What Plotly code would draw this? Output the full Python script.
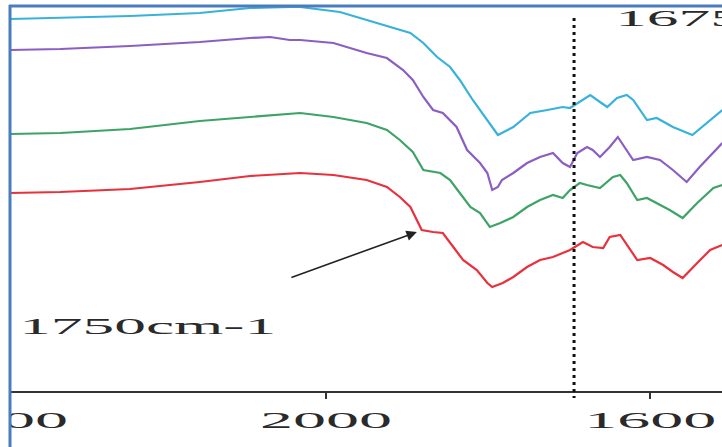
import plotly.graph_objects as go

# ---------------- data (wavenumber in cm-1, signal in arbitrary units) ----------------
cyan_wn = [2390, 2328, 2242, 2156, 2094, 2045, 2032, 1983, 1930, 1896, 1880, 1863, 1847, 1835,
           1819, 1801, 1788, 1769, 1748, 1727, 1708, 1699, 1690, 1674, 1662, 1653, 1641, 1629,
           1621, 1604, 1592, 1572, 1548, 1530, 1511]
cyan_val = [373, 374, 376, 379, 384, 385, 385, 380, 367, 359, 349, 335, 325, 312,
            292, 272, 257, 265, 279, 282, 285, 284, 289, 297, 290, 285, 294, 297,
            292, 272, 274, 265, 257, 269, 282]

purple_wn = [2390, 2328, 2242, 2156, 2094, 2069, 2045, 2032, 1991, 1950, 1925, 1905, 1893, 1880,
             1868, 1856, 1839, 1826, 1810, 1801, 1795, 1788, 1783, 1769, 1752, 1736, 1720, 1708,
             1699, 1690, 1678, 1671, 1662, 1650, 1640, 1629, 1621, 1604, 1588, 1572, 1555, 1539, 1511]
purple_val = [342, 343, 346, 350, 354, 355, 352, 352, 349, 339, 334, 322, 312, 295,
              282, 279, 265, 242, 229, 219, 202, 205, 212, 219, 229, 235, 239, 229,
              225, 239, 245, 242, 235, 245, 255, 242, 232, 235, 232, 222, 210, 225, 249]

green_wn = [2390, 2328, 2242, 2156, 2094, 2045, 2032, 1991, 1950, 1925, 1909, 1893, 1880, 1859,
            1847, 1835, 1822, 1810, 1798, 1785, 1769, 1752, 1736, 1720, 1708, 1699, 1687, 1678,
            1662, 1646, 1637, 1629, 1616, 1604, 1588, 1576, 1560, 1542, 1522, 1511]
green_val = [258, 259, 263, 271, 275, 278, 279, 275, 269, 262, 252, 240, 222, 219,
             212, 199, 185, 179, 165, 169, 175, 185, 192, 197, 194, 202, 209, 207,
             204, 215, 217, 209, 192, 194, 187, 182, 174, 189, 204, 207]

red_wn = [2390, 2328, 2242, 2156, 2094, 2032, 1991, 1950, 1925, 1909, 1896, 1888, 1882, 1868,
          1856, 1843, 1831, 1814, 1801, 1795, 1782, 1769, 1752, 1736, 1720, 1708, 1699, 1683,
          1671, 1658, 1650, 1637, 1625, 1616, 1600, 1584, 1572, 1560, 1542, 1526, 1511]
red_val = [199, 200, 203, 210, 216, 219, 217, 212, 205, 195, 185, 172, 162, 160,
           159, 145, 132, 122, 109, 105, 109, 115, 125, 132, 135, 139, 142, 150,
           145, 144, 155, 157, 142, 132, 134, 127, 120, 114, 129, 142, 147]

tick_vals = [2400, 2000, 1600]
tick_text = ["2400", "2000", "1600"]

marker_wn = 1694          # dotted reference line
arrow_wn, arrow_val = 1888, 160
label_1750 = "1750cm-1"
label_1675 = "1675cm-1"

x_range = [2402.5, 1511.4]
y_range = [-55, 392]

# ---------------- figure ----------------
W, H = 722, 447
fig = go.Figure()
series = [
    (cyan_wn, cyan_val, "#38b2da"),
    (purple_wn, purple_val, "#8b5ec2"),
    (green_wn, green_val, "#3ea366"),
    (red_wn, red_val, "#e8313c"),
]
for xs, ys, c in series:
    fig.add_trace(go.Scatter(x=xs, y=ys, mode="lines",
                             line=dict(color=c, width=2.2), showlegend=False,
                             hoverinfo="skip"))

font_txt = dict(family="Liberation Serif, Times New Roman, serif", size=24, color="#2a2a2a")

fig.update_layout(
    width=W, height=H,
    margin=dict(l=0, r=0, t=0, b=0, pad=0, autoexpand=False),
    paper_bgcolor="white", plot_bgcolor="white",
    xaxis=dict(range=x_range, anchor="free", position=(H - 392) / H,
               showgrid=False, zeroline=False, automargin=False,
               showline=True, linecolor="#333333", linewidth=1.5,
               ticks="outside", ticklen=6, tickwidth=1.5, tickcolor="#333333",
               tickvals=tick_vals, ticktext=tick_text,
               tickfont=font_txt, ticklabeloverflow="allow",
               domain=[0, 1]),
    yaxis=dict(range=y_range, visible=False, domain=[0, 1], automargin=False),
)

# dotted vertical marker
fig.add_shape(type="line", xref="x", yref="y", x0=marker_wn, x1=marker_wn, y0=374, y1=-6,
              line=dict(color="#111111", width=3, dash="3px,4px"), layer="above")

# white strip at left + blue frame (cropped-image border)
fig.add_shape(type="rect", xref="paper", yref="paper", x0=0, x1=9 / W, y0=0, y1=1,
              fillcolor="white", line=dict(width=0), layer="above")
fig.add_shape(type="rect", xref="paper", yref="paper", x0=0, x1=1, y0=1 - 5 / H, y1=1,
              fillcolor="white", line=dict(width=0), layer="above")
fig.add_shape(type="line", xref="paper", yref="paper", x0=10 / W, x1=10 / W, y0=0, y1=1 - 5 / H,
              line=dict(color="#4a7dc0", width=3), layer="above")
fig.add_shape(type="line", xref="paper", yref="paper", x0=9 / W, x1=1, y0=1 - 6 / H, y1=1 - 6 / H,
              line=dict(color="#4a7dc0", width=3), layer="above")

# arrow
fig.add_annotation(x=arrow_wn, y=arrow_val, xref="x", yref="y", text="",
                   showarrow=True, arrowhead=2, arrowsize=1.3, arrowwidth=1.6,
                   arrowcolor="#222222", ax=-127, ay=46, standoff=0)
# labels
fig.add_annotation(x=2220, y=66, xref="x", yref="y", text=label_1750, showarrow=False,
                   xanchor="center", yanchor="middle", font=font_txt)
fig.add_annotation(x=743.5 / W, y=374, xref="paper", yref="y", text=label_1675, showarrow=False,
                   xanchor="center", yanchor="middle", font=font_txt)

post = """
var gd = document.getElementById('{plot_id}');
function stretchText(){
  gd.querySelectorAll('.xtick text').forEach(function(t){
    t.setAttribute('textLength', '132'); t.setAttribute('lengthAdjust', 'spacingAndGlyphs');
  });
  gd.querySelectorAll('text.annotation-text').forEach(function(t){
    if (t.textContent.length > 0) {
      t.setAttribute('textLength', '257'); t.setAttribute('lengthAdjust', 'spacingAndGlyphs');
    }
  });
}
stretchText();
"""

fig.write_html("out.html", post_script=post, config={"displayModeBar": False})
